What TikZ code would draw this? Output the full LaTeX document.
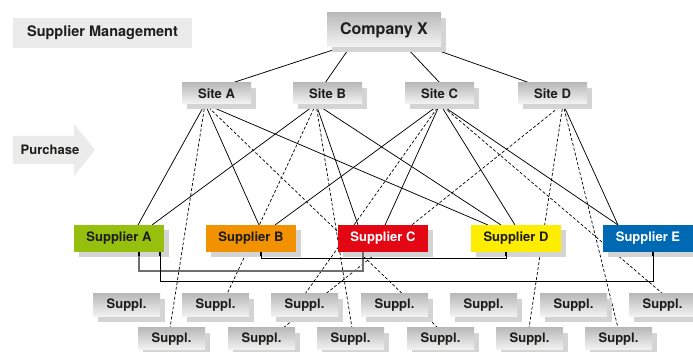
\documentclass[tikz,border=0pt]{standalone}
\usepackage{fontspec}
\setmainfont{TeX Gyre Heros}
\usetikzlibrary{shadows,backgrounds}
\definecolor{boxtop}{RGB}{186,186,186}
\definecolor{boxbot}{RGB}{244,244,244}
\definecolor{shadowc}{RGB}{212,212,212}
\definecolor{panel}{RGB}{235,235,235}
\definecolor{colA}{RGB}{151,191,13}
\definecolor{colB}{RGB}{243,146,0}
\definecolor{colC}{RGB}{227,6,19}
\definecolor{colD}{RGB}{255,237,0}
\definecolor{colE}{RGB}{0,105,180}
\definecolor{txt}{RGB}{29,29,27}
\definecolor{linkgray}{RGB}{110,110,110}
\tikzset{
  base/.style={anchor=north west, inner sep=0pt, outer sep=0pt, text=txt,
    font=\bfseries\fontsize{13}{15}\selectfont},
  shad/.style={drop shadow={shadow xshift=5pt, shadow yshift=-5pt, fill=shadowc, opacity=1}},
  graybox/.style={base, shad, top color=boxtop, bottom color=boxbot},
  sitebox/.style={graybox, minimum width=69pt, minimum height=21pt},
  supbox/.style={base, shad, minimum width=90pt, minimum height=27pt},
  smallbox/.style={graybox, minimum width=67pt, minimum height=23pt},
  link/.style={black, line width=0.75pt},
  dlink/.style={black, line width=0.7pt, dash pattern=on 3pt off 2pt},
  stub/.style={black, line width=2pt},
}
\begin{document}
\begin{tikzpicture}[x=1pt,y=-1pt]
\useasboundingbox (0,0) rectangle (693,352);
% panels
\node[base, fill=panel, minimum width=179pt, minimum height=30pt,
      font=\bfseries\fontsize{14.5}{17}\selectfont] (mgmt) at (13,18) {Supplier Management};
\fill[panel] (13,136) -- (74,136) -- (74,124) -- (95,150) -- (74,176) -- (74,164) -- (13,164) -- cycle;
\node[base, anchor=center] (purch) at (50,150) {Purchase};
% top level
\node[graybox, minimum width=114pt, minimum height=34pt,
      font=\bfseries\fontsize{16}{18}\selectfont] (comp) at (327,13) {Company X};
\node[sitebox] (siteA) at (182,83) {Site A};
\node[sitebox] (siteB) at (293,83) {Site B};
\node[sitebox] (siteC) at (405,83) {Site C};
\node[sitebox] (siteD) at (518,83) {Site D};
% suppliers
\node[supbox, fill=colA] (supA) at (74,225) {Supplier A};
\node[supbox, fill=colB] (supB) at (206,225) {Supplier B};
\node[supbox, fill=colC, text=white] (supC) at (338,225) {Supplier C};
\node[supbox, fill=colD] (supD) at (471,225) {Supplier D};
\node[supbox, fill=colE, text=white] (supE) at (603,225) {Supplier E};
% small suppliers row 1
\node[smallbox] (ra) at (93,294) {Suppl.};
\node[smallbox] (rb) at (182,294) {Suppl.};
\node[smallbox] (rc) at (271,294) {Suppl.};
\node[smallbox] (rd) at (361,294) {Suppl.};
\node[smallbox] (re) at (450,294) {Suppl.};
\node[smallbox] (rf) at (540,294) {Suppl.};
\node[smallbox] (rg) at (629,294) {Suppl.};
% small suppliers row 2
\node[smallbox, minimum height=22pt] (sa) at (138,328) {Suppl.};
\node[smallbox, minimum height=22pt] (sb) at (228,328) {Suppl.};
\node[smallbox, minimum height=22pt] (sc) at (317,328) {Suppl.};
\node[smallbox, minimum height=22pt] (sd) at (407,328) {Suppl.};
\node[smallbox, minimum height=22pt] (se) at (496,328) {Suppl.};
\node[smallbox, minimum height=22pt] (sf) at (585,328) {Suppl.};
% connectors behind boxes
\begin{pgfonlayer}{background}
\fill[white] (0,0) rectangle (693,352);
% company to sites
\draw[link] ([xshift=15pt]comp.south west) -- ([xshift=50pt]siteA.north west);
\draw[link] ([xshift=23pt]comp.south west) -- ([xshift=32pt]siteB.north west);
\draw[link] ([xshift=79pt]comp.south west) -- ([xshift=35pt]siteC.north west);
\draw[link] ([xshift=101pt]comp.south west) -- ([xshift=12pt]siteD.north west);
% Site A
\coordinate (oA) at ([xshift=23pt]siteA.south west);
\draw[link]  (oA) -- ([xshift=64pt]supA.north west);
\draw[dlink] (oA) -- ([xshift=32pt]sa.north west);
\draw[link]  (oA) -- ([xshift=53pt]supB.north west);
\draw[dlink] (oA) -- ([xshift=31pt]sd.north west);
\draw[link]  (oA) -- ([xshift=17pt]supD.north west);
% Site B
\coordinate (oB) at ([xshift=23pt]siteB.south west);
\draw[link]  (oB) -- ([xshift=78pt]supA.north west);
\draw[dlink] (oB) -- ([xshift=45pt]rb.north west);
\draw[dlink] (oB) -- ([xshift=35pt]sc.north west);
\draw[link]  (oB) -- ([xshift=20pt]supC.north west);
\draw[link]  (oB) -- ([xshift=30pt]supD.north west);
% Site C
\coordinate (oC) at ([xshift=35pt]siteC.south west);
\draw[link]  (oC) -- ([xshift=69pt]supB.north west);
\draw[dlink] (oC) -- ([xshift=34pt]rc.north west);
\draw[link]  (oC) -- ([xshift=47pt]supC.north west);
\draw[link]  (oC) -- ([xshift=44pt]supD.north west);
\draw[dlink] (oC) -- ([xshift=34pt]rg.north west);
\draw[link]  (oC) -- ([xshift=15pt]supE.north west);
% Site D
\coordinate (oD) at ([xshift=45pt]siteD.south west);
\draw[dlink] (oD) -- ([xshift=55pt]sb.north west);
\draw[dlink] (oD) -- ([xshift=33pt]se.north west);
\draw[dlink] (oD) -- ([xshift=33pt]sf.north west);
\draw[link]  (oD) -- ([xshift=15pt]supE.north west);
\end{pgfonlayer}
% supplier-to-supplier links (on top)
\draw[linkgray, line width=1.1pt] ([xshift=65pt]supA.south west) -- ++(0,19) -| ([xshift=25pt]supC.south west);
\draw[black, line width=1pt] ([xshift=86pt]supA.south west) -- ++(0,30) -| ([xshift=50pt]supE.south west);
\draw[black, line width=1pt] ([xshift=55pt]supB.south west) -- ++(0,7) -| ([xshift=35pt]supD.south west);
\draw[stub] ([xshift=65pt]supA.south west) -- ++(0,4);
\draw[stub] ([xshift=86pt]supA.south west) -- ++(0,4);
\draw[stub] ([xshift=55pt]supB.south west) -- ++(0,4);
\draw[stub] ([xshift=35pt]supD.south west) -- ++(0,4);
\draw[stub] ([xshift=50pt]supE.south west) -- ++(0,4);
\end{tikzpicture}
\end{document}
